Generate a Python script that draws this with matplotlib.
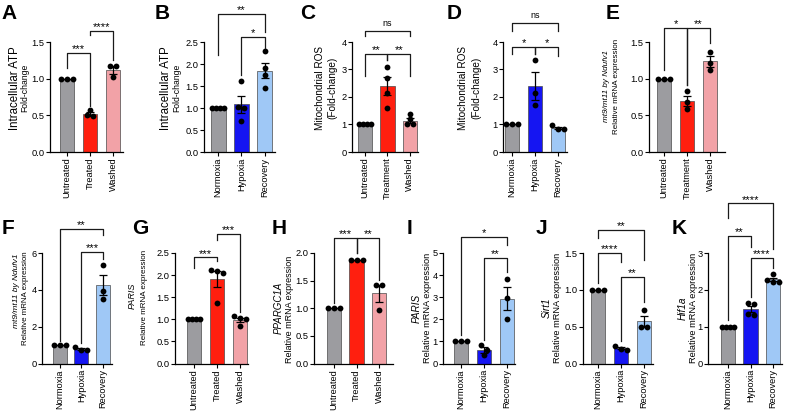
import numpy as np
import matplotlib
matplotlib.use("Agg")
import matplotlib.pyplot as plt

plt.rcParams['font.family'] = ['Liberation Sans', 'DejaVu Sans']

W, H = 790, 411

GRAY = '#9c9ca0'
RED = '#ff1f0f'
PINK = '#f2a2a7'
BLUE = '#1515f2'
LBLUE = '#9fc8f6'
TREAT_COLORS = [GRAY, RED, PINK]
HYPOX_COLORS = [GRAY, BLUE, LBLUE]

# ---- data ----
a_groups = ['Untreated', 'Treated', 'Washed']
a_points = [[1.0, 1.0, 1.0], [0.50, 0.49, 0.57], [1.17, 1.17, 1.02]]
a_stars = [(0, 1, 1.35, 1.15, 0.63, '***'), (1, 2, 1.65, 1.60, 1.25, '****')]

b_groups = ['Normoxia', 'Hypoxia', 'Recovery']
b_points = [[1.0, 1.0, 1.0, 1.0], [1.62, 1.0, 1.02, 0.70], [2.30, 1.90, 1.75, 1.45]]
b_stars = [(0, 2, 3.14, 2.20, 2.73, '**'), (1, 2, 2.61, 1.75, 2.36, '*')]

c_groups = ['Untreated', 'Treatment', 'Washed']
c_points = [[1.0, 1.0, 1.0, 1.0], [3.10, 2.70, 2.15, 1.60], [1.38, 1.20, 1.00, 1.00]]
c_stars = [(0, 2, 4.40, 4.20, 4.20, 'ns'), (0, 1, 3.56, 2.78, 3.35, '**'),
           (1, 2, 3.56, 3.35, 2.78, '**')]

d_groups = ['Normoxia', 'Hypoxia', 'Recovery']
d_points = [[1.0, 1.0, 1.0], [3.35, 2.15, 1.70], [0.97, 0.82, 0.85]]
d_stars = [(0, 2, 4.68, 4.40, 4.40, 'ns'), (0, 1, 3.82, 3.55, 3.55, '*'),
           (1, 2, 3.82, 3.55, 3.50, '*')]

e_groups = ['Untreated', 'Treatment', 'Washed']
e_points = [[1.0, 1.0, 1.0], [0.83, 0.68, 0.58], [1.37, 1.22, 1.12]]
e_stars = [(0, 1, 1.69, 1.12, 0.91, '*'), (1, 2, 1.69, 0.91, 1.49, '**')]

f_groups = ['Normoxia', 'Hypoxia', 'Recovery']
f_points = [[1.0, 1.0, 1.0], [0.87, 0.72, 0.75], [5.35, 3.95, 3.50]]
f_stars = [(0, 2, 7.30, 1.20, 7.00, '**'), (1, 2, 6.05, 1.10, 5.70, '***')]

g_groups = ['Untreated', 'Treated', 'Washed']
g_points = [[1.0, 1.0, 1.0, 1.0], [2.12, 2.05, 2.10, 1.37], [1.08, 1.03, 1.00, 0.85]]
g_stars = [(0, 1, 2.40, 2.16, 2.33, '***'), (1, 2, 2.93, 2.80, 1.17, '***')]

h_groups = ['Untreated', 'Treated', 'Washed']
h_points = [[1.0, 1.0, 1.0], [1.88, 1.88, 1.88], [1.42, 1.42, 0.97]]
h_stars = [(0, 1, 2.27, 1.10, 2.00, '***'), (1, 2, 2.27, 2.00, 1.51, '**')]

i_groups = ['Normoxia', 'Hypoxia', 'Recovery']
i_points = [[1.0, 1.0, 1.0], [0.83, 0.40, 0.62], [3.82, 2.95, 2.02]]
i_stars = [(0, 2, 5.72, 1.30, 5.36, '*'), (1, 2, 4.77, 1.08, 4.15, '**')]

j_groups = ['Normoxia', 'Hypoxia', 'Recovery']
j_points = [[1.0, 1.0, 1.0], [0.24, 0.19, 0.20], [0.72, 0.50, 0.50]]
j_stars = [(0, 2, 1.81, 1.71, 1.40, '**'), (0, 1, 1.50, 1.09, 1.38, '****'),
           (1, 2, 1.18, 0.30, 0.84, '**')]

k_groups = ['Normoxia', 'Hypoxia', 'Recovery']
k_points = [[1.0, 1.0, 1.0, 1.0], [1.65, 1.62, 1.35, 1.32], [2.42, 2.28, 2.22, 2.22]]
k_stars = [(0, 2, 4.35, 3.95, 3.12, '****'), (0, 1, 3.46, 1.19, 3.16, '**'),
           (1, 2, 2.86, 1.81, 2.60, '****')]

TOP = (152, 42)
BOT = (363.5, 253)

# letter, groups, points, stars, colors, (ymax, step, decimals),
# axes px (left, right, row), xlim pads, ylabel lines, letter pos
panels = [
    dict(letter='A', groups=a_groups, pts=a_points, stars=a_stars, colors=TREAT_COLORS,
         yax=(1.5, 0.5, 1), box=(50, 123, TOP), pad=(0.74, 0.43),
         ylab=[('Intracellular ATP', False, 8.3, 15, 88), ('Fold-change', False, 6.2, 25, 88)],
         lpos=(1, 4)),
    dict(letter='B', groups=b_groups, pts=b_points, stars=b_stars, colors=HYPOX_COLORS,
         yax=(2.5, 0.5, 1), box=(204, 275, TOP), pad=(0.6, 0.43),
         ylab=[('Intracellular ATP', False, 8.3, 166, 88), ('Fold-change', False, 6.2, 177, 88)],
         lpos=(155, 4)),
    dict(letter='C', groups=c_groups, pts=c_points, stars=c_stars, colors=TREAT_COLORS,
         yax=(4, 1, 0), box=(352, 418, TOP), pad=(0.58, 0.36),
         ylab=[('Mitochondrial ROS', False, 7.2, 320, 88), ('(Fold-change)', False, 7.2, 332, 88)],
         lpos=(300, 4)),
    dict(letter='D', groups=d_groups, pts=d_points, stars=d_stars, colors=HYPOX_COLORS,
         yax=(4, 1, 0), box=(503, 567, TOP), pad=(0.39, 0.39),
         ylab=[('Mitochondrial ROS', False, 7.2, 463, 88), ('(Fold-change)', False, 7.2, 476, 88)],
         lpos=(447, 4)),
    dict(letter='E', groups=e_groups, pts=e_points, stars=e_stars, colors=TREAT_COLORS,
         yax=(1.5, 0.5, 1), box=(649, 725, TOP), pad=(0.65, 0.65),
         ylab=[('mt9/mt11 by Ndufv1', True, 5.9, 606, 86),
               ('Relative mRNA expression', False, 5.8, 617, 86)],
         lpos=(606, 4)),
    dict(letter='F', groups=f_groups, pts=f_points, stars=f_stars, colors=HYPOX_COLORS,
         yax=(6, 2, 0), box=(42, 112, BOT), pad=(0.8, 0.4),
         ylab=[('mt9/mt11 by Ndufv1', True, 6.0, 17, 291),
               ('Relative mRNA expression', False, 5.7, 26, 298)],
         lpos=(2, 219)),
    dict(letter='G', groups=g_groups, pts=g_points, stars=g_stars, colors=TREAT_COLORS,
         yax=(2.5, 0.5, 1), box=(175, 248, BOT), pad=(0.83, 0.35),
         ylab=[('PARIS', True, 6.5, 132, 296),
               ('Relative mRNA expression', False, 5.8, 144, 297)],
         lpos=(132, 219)),
    dict(letter='H', groups=h_groups, pts=h_points, stars=h_stars, colors=TREAT_COLORS,
         yax=(2.0, 0.5, 1), box=(314, 393, BOT), pad=(0.9, 0.62),
         ylab=[('PPARGC1A', True, 7.0, 279, 308),
               ('Relative mRNA expression', False, 6.5, 289, 309)],
         lpos=(272, 219)),
    dict(letter='I', groups=i_groups, pts=i_points, stars=i_stars, colors=HYPOX_COLORS,
         yax=(5, 1, 0), box=(443, 515, BOT), pad=(0.78, 0.35),
         ylab=[('PARIS', True, 7.2, 417, 308),
               ('Relative mRNA expression', False, 6.7, 428, 308)],
         lpos=(407, 219)),
    dict(letter='J', groups=j_groups, pts=j_points, stars=j_stars, colors=HYPOX_COLORS,
         yax=(1.5, 0.5, 1), box=(583, 653, BOT), pad=(0.65, 0.39),
         ylab=[('Sirt1', True, 7.2, 547, 308),
               ('Relative mRNA expression', False, 6.7, 557, 308)],
         lpos=(536, 219)),
    dict(letter='K', groups=k_groups, pts=k_points, stars=k_stars, colors=HYPOX_COLORS,
         yax=(3, 1, 0), box=(708, 782, BOT), pad=(0.89, 0.4),
         ylab=[('Hif1a', True, 7.2, 683, 308),
               ('Relative mRNA expression', False, 6.7, 693, 308)],
         lpos=(672, 219)),
]


def swarm(vals, ppy, ppx, dot=6.0, span=12.5):
    # spread near-equal values sideways, like Prism's scatter dots
    vals = np.asarray(vals)
    order = np.argsort(-vals)
    offs = np.zeros(len(vals))
    clusters, cur = [], [order[0]]
    for k in order[1:]:
        if abs(vals[k] - vals[cur[-1]]) * ppy < dot * 0.8:
            cur.append(k)
        else:
            clusters.append(cur)
            cur = [k]
    clusters.append(cur)
    for c in clusters:
        n = len(c)
        step = min(dot, span / max(n - 1, 1)) / ppx
        for m, k in enumerate(c):
            offs[k] = (m - (n - 1) / 2) * step
    return offs


fig = plt.figure(figsize=(W / 100, H / 100), dpi=100)

for p in panels:
    left, right, (y0, ytop) = p['box']
    ax = fig.add_axes([left / W, 1 - y0 / H, (right - left) / W, (y0 - ytop) / H])
    ymax, step, dec = p['yax']
    lo, hi = p['pad']
    ax.set_xlim(-lo, 2 + hi)
    ax.set_ylim(0, ymax)
    ppy = (y0 - ytop) / ymax
    ppx = (right - left) / (2 + lo + hi)

    x = np.arange(len(p['groups']))
    means = [np.mean(v) for v in p['pts']]
    sems = [np.std(v, ddof=1) / np.sqrt(len(v)) for v in p['pts']]
    ax.bar(x, means, width=0.64, color=p['colors'], edgecolor='#4a4a4a',
           linewidth=0.5, zorder=2)
    ax.errorbar(x, means, yerr=sems, fmt='none', ecolor='k', elinewidth=0.9,
                capsize=2.6, capthick=0.9, zorder=3)
    for i, v in enumerate(p['pts']):
        ax.plot(i + swarm(v, ppy, ppx), v, 'o', color='k', ms=4.2, mew=0,
                zorder=4, clip_on=False)

    for (i, j, y, yl, yr, lab) in p['stars']:
        ax.plot([i, i, j, j], [yl, y, y, yr], color='#1a1a1a', lw=0.9,
                clip_on=False, zorder=5)
        if lab == 'ns':
            ax.annotate(lab, ((i + j) / 2, y), xytext=(0, 2.5), textcoords='offset points',
                        ha='center', va='bottom', fontsize=6.5, annotation_clip=False)
        else:
            ax.annotate(lab, ((i + j) / 2, y), xytext=(0, 0.5), textcoords='offset points',
                        ha='center', va='baseline', fontsize=8, annotation_clip=False)

    ticks = np.arange(0, ymax + step / 2, step)
    ax.set_yticks(ticks)
    ax.set_yticklabels([f'{t:.{dec}f}' for t in ticks], fontsize=6.7)
    ax.set_xticks(x)
    ax.set_xticklabels(p['groups'], rotation=90, fontsize=6.7)
    ax.tick_params(axis='both', length=3, width=0.8, pad=1.0)
    for s in ['top', 'right']:
        ax.spines[s].set_visible(False)
    for s in ['left', 'bottom']:
        ax.spines[s].set_linewidth(0.9)
    ax.patch.set_alpha(0)

    for (txt, it, fs, lx, ly) in p['ylab']:
        fig.text(lx / W, 1 - ly / H, txt, rotation=90, ha='center', va='center',
                 fontsize=fs, style='italic' if it else 'normal')

    fig.text(p['lpos'][0] / W, 1 - p['lpos'][1] / H, p['letter'], fontsize=15,
             fontweight='bold', ha='left', va='top')

fig.savefig('out.png', dpi=100)
